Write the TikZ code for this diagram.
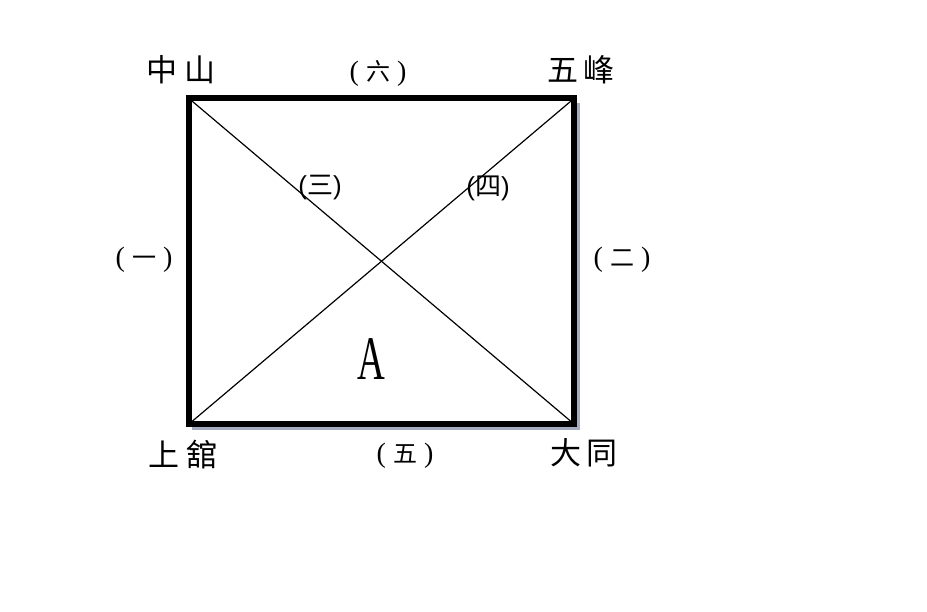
\documentclass[tikz,border=0pt]{standalone}
\usepackage{fontspec}
\setmainfont{Liberation Serif}
\newfontfamily\cjk{Noto Sans CJK TC}
\newfontfamily\lsans{Liberation Sans}
\newcommand{\sidepar}[1]{{\fontsize{28}{28}\selectfont(}\hspace{7pt}{\cjk\fontsize{24}{24}\selectfont #1}\hspace{7pt}{\fontsize{28}{28}\selectfont)}}
\newcommand{\diagpar}[1]{{\lsans(}{\cjk #1}{\lsans)}}
\begin{document}
\begin{tikzpicture}[x=1pt,y=-1pt,
  place/.style={font=\cjk\fontsize{31}{31}\selectfont, inner sep=0pt},
  sidelab/.style={inner sep=0pt},
  diaglab/.style={font=\fontsize{26}{26}\selectfont, inner sep=0pt},
  frame/.style={line width=6pt, line join=miter},
  shadow/.style={line width=3pt, color={rgb,255:red,165;green,172;blue,192}},
  diag/.style={line width=1.2pt}]
\useasboundingbox (0,0) rectangle (927,612);
% corners
\coordinate (tl) at (189,98.5);
\coordinate (tr) at (574,98.5);
\coordinate (br) at (574,424);
\coordinate (bl) at (189,424);
% shadow
\draw[shadow] (578.5,103) -- (578.5,428.5) -- (192,428.5);
% frame
\draw[frame] (tl) -- (tr) -- (br) -- (bl) -- cycle;
% diagonals
\draw[diag] (tl) -- (br);
\draw[diag] (bl) -- (tr);
% place names
\node[place] (zs) at (181,70) {中\hspace{8pt}山};
\node[place] (wf) at (581,70) {五\hspace{6pt}峰};
\node[place] (sg) at (183,455) {上\hspace{8pt}舘};
\node[place] (dt) at (584,453) {大\hspace{6pt}同};
% side labels
\node[sidelab] (l6) at (378,73) {\sidepar{六}};
\node[sidelab] (l1) at (144,260) {\sidepar{一}};
\node[sidelab] (l2) at (622,260) {\sidepar{二}};
\node[sidelab] (l5) at (405,456) {\sidepar{五}};
\node[diaglab] (l3) at (320,188) {\diagpar{三}};
\node[diaglab] (l4) at (488,188) {\diagpar{四}};
% A
\node[inner sep=0pt, xscale=0.62, font=\fontsize{62}{62}\selectfont] (a) at (371,359) {A};
\end{tikzpicture}
\end{document}
